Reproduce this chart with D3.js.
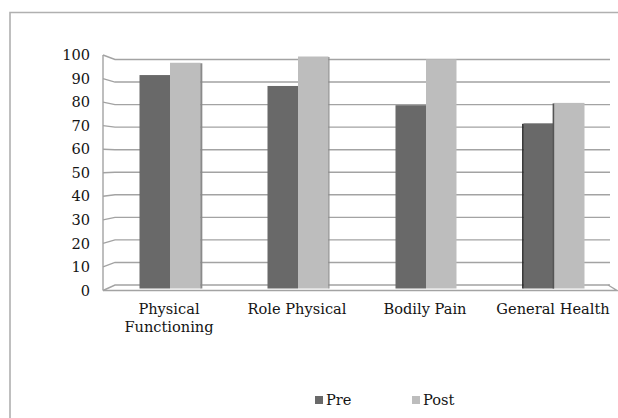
<!DOCTYPE html>
<html>
<head>
<meta charset="utf-8">
<script src="https://cdn.jsdelivr.net/npm/d3@7"></script>
<style>
  html, body { margin: 0; padding: 0; background: #ffffff; }
  svg { display: block; }
  text { font-family: "DejaVu Serif", "Liberation Serif", serif; fill: #141414; }
</style>
</head>
<body>
<script>
// SF-36 domain scores before and after treatment
const categories = ["Physical Functioning", "Role Physical", "Bodily Pain", "General Health"];
const categoryLines = [["Physical", "Functioning"], ["Role Physical"], ["Bodily Pain"], ["General Health"]];
const seriesNames = ["Pre", "Post"];
const preValues = [92, 87.3, 79, 71.2];
const postValues = [97.3, 100, 98.8, 80];
const yTicks = [0, 10, 20, 30, 40, 50, 60, 70, 80, 90, 100];

const W = 618, H = 418;
const colors = { Pre: "#696969", Post: "#bdbdbd" };
const sideColors = { Pre: "#2e2e2e", Post: "#8a8a8a" };
const gridColor = "#a3a3a3";
const fontSize = 14.6;

const svg = d3.select("body").append("svg").attr("width", W).attr("height", H);

// Outer chart-area frame (top and left edges visible)
svg.append("path")
  .attr("d", `M10,${H} L10,12.5 L${W},12.5`)
  .attr("fill", "none").attr("stroke", "#b0b0b0").attr("stroke-width", 1.6);

// Perspective: front edge of the side wall and the back wall use slightly different scales
const xFront = 103, xBack = 115, xRight = 610, xFloorFront = 617;
const yFront = d3.scaleLinear().domain([0, 100]).range([290.5, 55]);
const yBack = d3.scaleLinear().domain([0, 100]).range([285, 59.5]);
const yBar = d3.scaleLinear().domain([0, 100]).range([288.5, 56.5]);

const x = d3.scaleBand().domain(categories).range([106, 618]).padding(0);
const xs = d3.scaleBand().domain(seriesNames).range([0, 61]).padding(0);

// Walls: diagonal gridlines on the side wall, horizontal on the back wall
const grid = svg.append("g").attr("fill", "none").attr("stroke", gridColor).attr("stroke-width", 1.4);
yTicks.forEach(v => {
  grid.append("path")
    .attr("d", `M${xFront},${yFront(v)} L${xBack},${yBack(v)} L${xRight},${yBack(v)}`);
});
// Side-wall front edge
grid.append("line")
  .attr("x1", xFront).attr("x2", xFront)
  .attr("y1", yFront(100)).attr("y2", yFront(0));
// Floor: front edge and right edge
grid.append("path")
  .attr("d", `M${xFront},${yFront(0)} L${xFloorFront},${yFront(0)} L${xRight - 2},${yBack(0)}`);

// Value axis labels
const yAxis = d3.axisLeft(yFront).tickValues(yTicks).tickSize(0).tickPadding(13);
const axisG = svg.append("g").attr("transform", `translate(${xFront},0)`).call(yAxis);
axisG.select(".domain").remove();
axisG.selectAll("text")
  .attr("font-family", "DejaVu Serif, serif")
  .attr("font-size", fontSize)
  .attr("fill", "#141414");

// Columns with a thin perspective side face
const vanishX = 470;
const rows = categories.map((c, i) => ({ cat: c, Pre: preValues[i], Post: postValues[i] }));
const bars = svg.append("g");
rows.forEach(r => {
  const cx = x(r.cat) + x.bandwidth() / 2;
  seriesNames.forEach(s => {
    const x0 = cx - xs.range()[1] / 2 + xs(s);
    const w = xs.bandwidth();
    const top = yBar(r[s]);
    const bottom = yBar(0);
    bars.append("rect")
      .attr("x", x0).attr("y", top)
      .attr("width", w).attr("height", bottom - top)
      .attr("fill", colors[s]);
    const face = (vanishX - cx) * 0.0068;
    if (face > 0.6 && s === "Post") {
      bars.append("rect")
        .attr("x", x0 + w - 0.2).attr("y", top + 0.5)
        .attr("width", face).attr("height", bottom - top - 0.5)
        .attr("fill", sideColors[s]);
    } else if (face < -0.3) {
      bars.append("rect")
        .attr("x", x0 - 1.4).attr("y", top + 0.5)
        .attr("width", 1.6).attr("height", bottom - top - 0.5)
        .attr("fill", s === "Pre" ? "#262626" : "#555555");
    }
  });
});

// Category labels
const catG = svg.append("g");
categories.forEach((c, i) => {
  const t = catG.append("text")
    .attr("x", x(c) + x.bandwidth() / 2 - 1)
    .attr("y", 313.5)
    .attr("text-anchor", "middle")
    .attr("font-size", fontSize);
  categoryLines[i].forEach((line, j) => {
    t.append("tspan")
      .attr("x", x(c) + x.bandwidth() / 2 - 1)
      .attr("dy", j === 0 ? 0 : 18)
      .text(line);
  });
});

// Legend
const legendX = { Pre: 315, Post: 412 };
const legend = svg.append("g");
seriesNames.forEach(s => {
  legend.append("rect")
    .attr("x", legendX[s]).attr("y", 396)
    .attr("width", 8).attr("height", 8)
    .attr("fill", colors[s]);
  legend.append("text")
    .attr("x", legendX[s] + 11).attr("y", 405)
    .attr("font-size", fontSize)
    .text(s);
});
</script>
</body>
</html>
